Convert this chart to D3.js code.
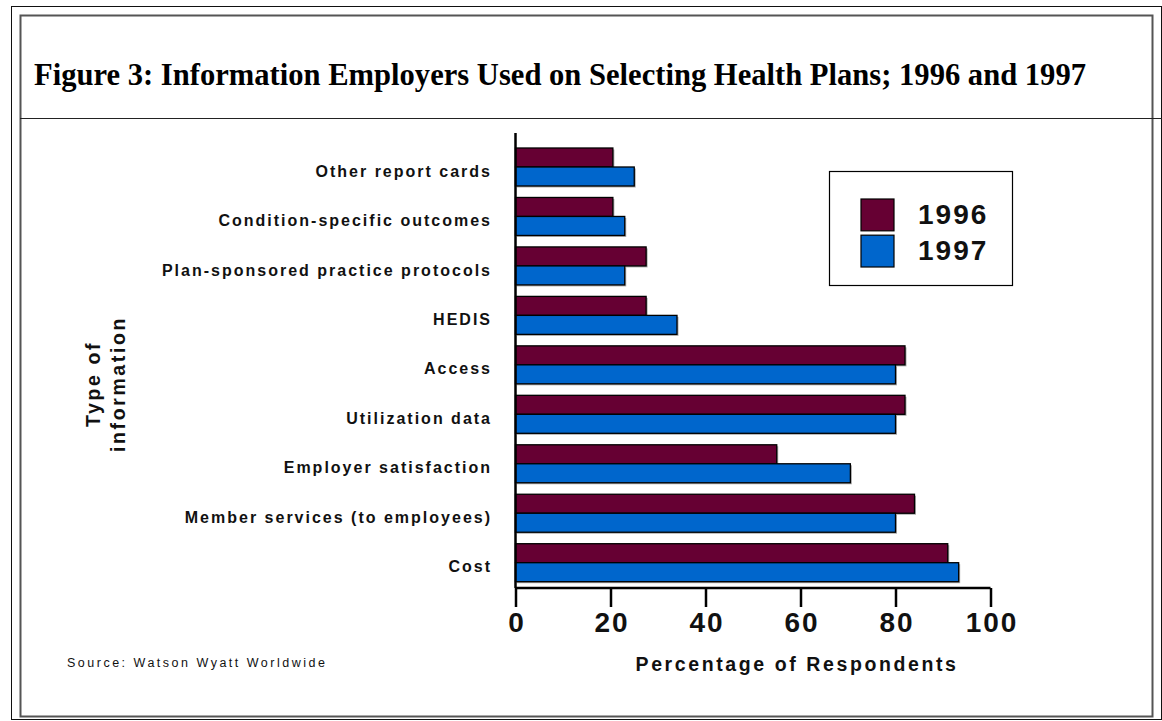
<!DOCTYPE html>
<html>
<head>
<meta charset="utf-8">
<script src="https://cdn.jsdelivr.net/npm/d3@7"></script>
<style>
  html, body { margin: 0; padding: 0; background: #fff; }
  svg { display: block; }
</style>
</head>
<body>
<svg id="chart" width="1162" height="721"></svg>
<script>
// ---- data ----
const categories = [
  "Other report cards",
  "Condition-specific outcomes",
  "Plan-sponsored practice protocols",
  "HEDIS",
  "Access",
  "Utilization data",
  "Employer satisfaction",
  "Member services (to employees)",
  "Cost"
];
const values1996 = [20.5, 20.5, 27.5, 27.5, 82, 82, 55, 84, 91];
const values1997 = [25, 23, 23, 34, 80, 80, 70.5, 80, 93.3];
const seriesNames = ["1996", "1997"];
const xTicks = [0, 20, 40, 60, 80, 100];
const titleText = "Figure 3: Information Employers Used on Selecting Health Plans; 1996 and 1997";
const xTitle = "Percentage of Respondents";
const yTitleLines = ["Type of", "information"];
const sourceText = "Source: Watson Wyatt Worldwide";

const colors = { "1996": "#660033", "1997": "#0066CC" };

const svg = d3.select("#chart");

// ---- frame ----
svg.append("rect").attr("x", 11.5).attr("y", 6.5).attr("width", 1150).attr("height", 713)
  .attr("fill", "none").attr("stroke", "#111").attr("stroke-width", 1);
svg.append("rect").attr("x", 20.5).attr("y", 15.5).attr("width", 1132).attr("height", 701)
  .attr("fill", "none").attr("stroke", "#555").attr("stroke-width", 2);
svg.append("line").attr("x1", 20).attr("x2", 1162).attr("y1", 118.5).attr("y2", 118.5)
  .attr("stroke", "#222").attr("stroke-width", 1.2);

svg.append("text").attr("x", 34).attr("y", 85)
  .attr("font-family", "'Liberation Serif', 'Times New Roman', serif")
  .attr("font-weight", "bold").attr("font-size", 31)
  .attr("textLength", 1052).attr("lengthAdjust", "spacingAndGlyphs")
  .attr("fill", "#000").text(titleText);

// ---- scales ----
const x = d3.scaleLinear().domain([0, 100]).range([515.5, 990.5]);
const y = d3.scaleBand().domain(categories).range([148, 581.7]).paddingInner(0.232).paddingOuter(0);
const ySub = d3.scaleBand().domain(seriesNames).range([0, y.bandwidth()]);

const rows = categories.map((c, i) => ({ cat: c, "1996": values1996[i], "1997": values1997[i] }));

const barG = svg.append("g");
const groups = barG.selectAll("g.grp").data(rows).join("g")
  .attr("class", "grp")
  .attr("transform", d => `translate(0,${y(d.cat)})`);

// shadows
groups.selectAll("rect.shadow").data(d => seriesNames.map(s => ({ s, v: d[s] }))).join("rect")
  .attr("class", "shadow")
  .attr("x", x(0) + 1.5)
  .attr("y", d => ySub(d.s) + 1.5)
  .attr("width", d => x(d.v) - x(0))
  .attr("height", ySub.bandwidth())
  .attr("fill", "#aaa");

groups.selectAll("rect.bar").data(d => seriesNames.map(s => ({ s, v: d[s] }))).join("rect")
  .attr("class", "bar")
  .attr("x", x(0))
  .attr("y", d => ySub(d.s))
  .attr("width", d => x(d.v) - x(0))
  .attr("height", ySub.bandwidth())
  .attr("fill", d => colors[d.s])
  .attr("stroke", "#000").attr("stroke-width", 1.3);

// category labels
svg.append("g").selectAll("text").data(categories).join("text")
  .attr("x", 492)
  .attr("y", d => y(d) + y.bandwidth() / 2 + 4)
  .attr("dy", "0.35em")
  .attr("text-anchor", "end")
  .attr("font-family", "'Liberation Sans', Arial, sans-serif")
  .attr("font-weight", "bold").attr("font-size", 16)
  .attr("letter-spacing", 2)
  .attr("fill", "#111")
  .text(d => d);

// ---- axes ----
const axisBottomY = 588;
const xAxis = d3.axisBottom(x).tickValues(xTicks).tickSize(19).tickPadding(5).tickFormat(d3.format("d"));
const xg = svg.append("g").attr("transform", `translate(0,${axisBottomY})`).call(xAxis);
xg.select(".domain").attr("stroke", "#000").attr("stroke-width", 2.5).attr("d", `M${x(0)},0H${x(100)}`);
xg.selectAll(".tick line").attr("stroke", "#000").attr("stroke-width", 2.5);
xg.selectAll(".tick text")
  .attr("font-family", "'Liberation Sans', Arial, sans-serif")
  .attr("font-weight", "bold").attr("font-size", 28)
  .attr("letter-spacing", 2)
  .attr("dx", 1)
  .attr("fill", "#111");

// y axis line
svg.append("line")
  .attr("x1", x(0)).attr("x2", x(0))
  .attr("y1", y.range()[0] - 15).attr("y2", axisBottomY)
  .attr("stroke", "#000").attr("stroke-width", 2.5);

// axis titles
svg.append("text").attr("x", 797).attr("y", 671)
  .attr("text-anchor", "middle")
  .attr("font-family", "'Liberation Sans', Arial, sans-serif")
  .attr("font-weight", "bold").attr("font-size", 19.5)
  .attr("letter-spacing", 2.6)
  .attr("fill", "#111").text(xTitle);

const yt = svg.append("text")
  .attr("transform", "translate(100,384) rotate(-90)")
  .attr("text-anchor", "middle")
  .attr("font-family", "'Liberation Sans', Arial, sans-serif")
  .attr("font-weight", "bold").attr("font-size", 19.5)
  .attr("letter-spacing", 2.6)
  .attr("fill", "#111");
yTitleLines.forEach((t, i) => {
  yt.append("tspan").attr("x", 0).attr("dy", i === 0 ? 0 : 25).text(t);
});

// source
svg.append("text").attr("x", 67).attr("y", 667)
  .attr("font-family", "'Liberation Sans', Arial, sans-serif")
  .attr("font-size", 12.5).attr("letter-spacing", 2.5)
  .attr("fill", "#111").text(sourceText);

// ---- legend ----
const lg = svg.append("g");
lg.append("rect").attr("x", 829.5).attr("y", 171.5).attr("width", 183).attr("height", 114)
  .attr("fill", "#fff").attr("stroke", "#000").attr("stroke-width", 1.2);
const legendY = d3.scaleBand().domain(seriesNames).range([199, 267]).paddingInner(0.12);
const items = lg.selectAll("g.item").data(seriesNames).join("g").attr("class", "item")
  .attr("transform", d => `translate(0,${legendY(d)})`);
items.append("rect").attr("x", 861).attr("y", 0).attr("width", 33).attr("height", legendY.bandwidth())
  .attr("fill", d => colors[d]).attr("stroke", "#000").attr("stroke-width", 1.2);
items.append("text").attr("x", 918).attr("y", legendY.bandwidth() / 2).attr("dy", "0.33em")
  .attr("font-family", "'Liberation Sans', Arial, sans-serif")
  .attr("font-weight", "bold").attr("font-size", 28)
  .attr("letter-spacing", 2)
  .attr("fill", "#111").text(d => d);
</script>
</body>
</html>
